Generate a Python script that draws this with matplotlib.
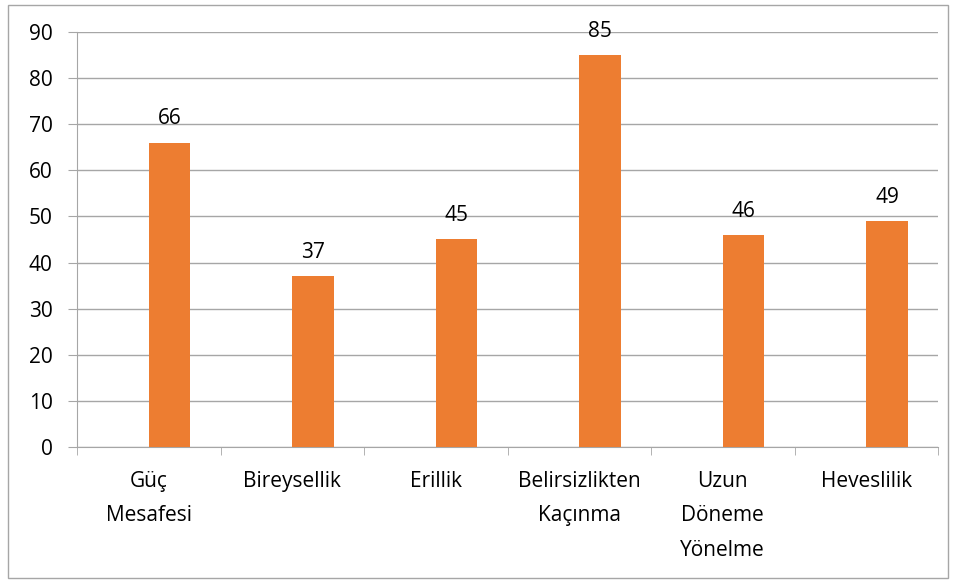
import matplotlib.pyplot as plt
from matplotlib.patches import Rectangle
import numpy as np

categories = ['Güç\nMesafesi', 'Bireysellik', 'Erillik', 'Belirsizlikten\nKaçınma',
              'Uzun\nDöneme\nYönelme', 'Heveslilik']
values = [66, 37, 45, 85, 46, 49]

plt.rcParams['font.family'] = ['Open Sans', 'DejaVu Sans']
plt.rcParams['font.size'] = 15

fig = plt.figure(figsize=(9.56, 5.81), dpi=100)
ax = fig.add_axes([77 / 956, 1 - 447 / 581, (938 - 77) / 956, (447 - 32) / 581])

x = np.arange(len(categories))
# second series of an otherwise empty grouped chart -> bars sit right of centre
bars = ax.bar(x + 0.145, values, width=0.29, color='#ED7D31', zorder=3)
for b, v in zip(bars, values):
    ax.text(b.get_x() + b.get_width() / 2, v + 2.9, str(v), ha='center', va='bottom',
            fontsize=15, color='black')

ax.set_xlim(-0.5, len(categories) - 0.5)
ax.set_ylim(0, 90)
ax.set_yticks(range(0, 91, 10))
ax.yaxis.grid(True, color='#a6a6a6', linewidth=1, zorder=0)
ax.tick_params(axis='y', length=6.5, color='#a6a6a6', pad=11, labelsize=15)

ax.set_xticks(x)
ax.set_xticklabels(categories, linespacing=1.85)
ax.tick_params(axis='x', length=0, pad=17, labelsize=15)
ax.set_xticks(np.arange(-0.5, len(categories)), minor=True)
ax.tick_params(axis='x', which='minor', length=6, color='#a6a6a6')

for s in ['top', 'right']:
    ax.spines[s].set_visible(False)
for s in ['left', 'bottom']:
    ax.spines[s].set_color('#a6a6a6')

fig.patches.append(Rectangle((8 / 956, 1 - 578 / 581), 940 / 956, 573 / 581,
                             transform=fig.transFigure, fill=False,
                             edgecolor='#a6a6a6', linewidth=1))

fig.savefig('out.png', dpi=100)
